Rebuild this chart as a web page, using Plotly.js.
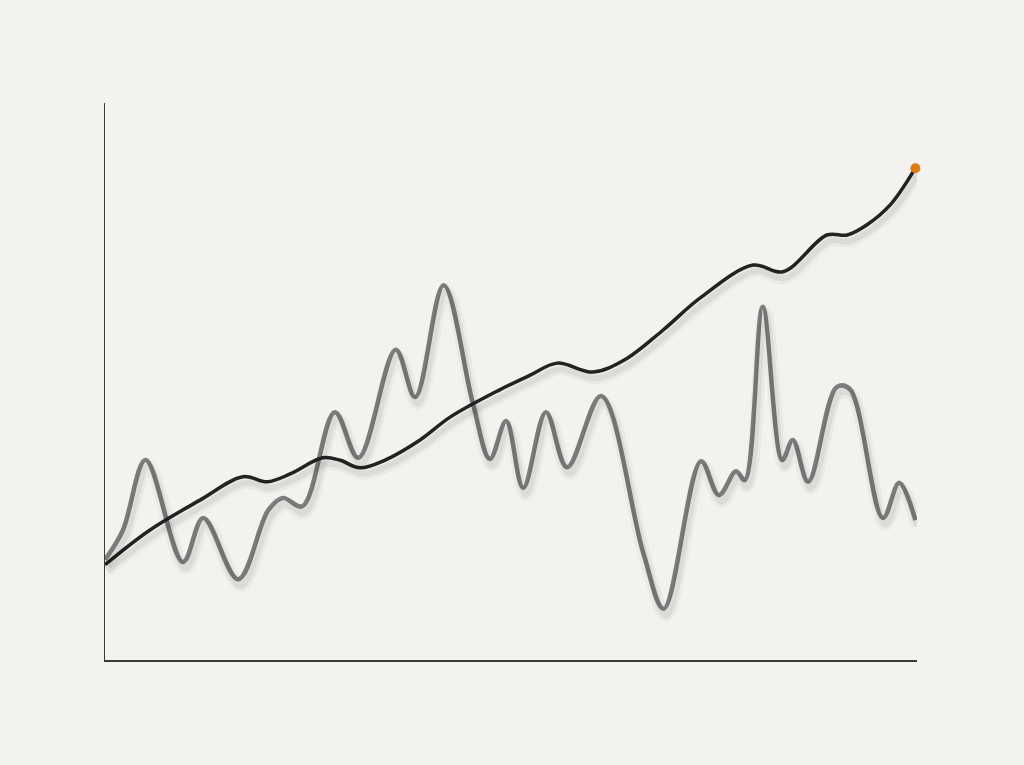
<!DOCTYPE html>
<html>
<head>
<meta charset="utf-8">
<script src="https://cdn.plot.ly/plotly-3.0.1.min.js"></script>
<style>
  html, body { margin: 0; padding: 0; background: #f3f2ef; }
  #chart { width: 1024px; height: 765px; }
</style>
</head>
<body>
<div id="chart"></div>
<script>
// Trend (black) series
const trendX = [0, 5.5, 11.7, 17.0, 20.0, 22.8, 26.8, 28.9, 31.4, 34.5, 38.8, 42.5, 48.6, 52.3, 55.7, 60.1, 64.0, 68.7, 73.3, 79.8, 83.5, 88.9, 91.4, 93.8, 96.7, 99.8];
const trendY = [17.1, 23.3, 28.7, 32.9, 32.0, 33.4, 36.3, 35.9, 34.5, 35.9, 39.5, 43.6, 48.5, 51.1, 53.3, 51.7, 53.9, 59.2, 65.0, 70.9, 69.7, 76.3, 76.3, 78.1, 81.7, 88.3];

// Volatile (gray) series
const noisyX = [0, 2.2, 5.0, 9.6, 12.1, 16.4, 20.1, 21.9, 24.3, 28.3, 31.2, 35.8, 38.2, 41.7, 45.3, 47.4, 49.4, 51.5, 54.3, 56.9, 61.1, 66.3, 68.8, 73.4, 75.6, 77.7, 78.8, 81.0, 83.4, 84.7, 86.6, 90.1, 91.7, 95.8, 97.8, 99.8];
const noisyY = [18.0, 23.3, 35.9, 17.6, 25.5, 14.5, 26.9, 29.1, 27.6, 44.5, 36.3, 55.7, 47.2, 67.3, 46.1, 36.1, 42.9, 30.9, 44.5, 34.6, 47.4, 19.2, 9.2, 35.7, 29.6, 33.9, 32.3, 63.4, 35.9, 39.5, 32.0, 49.0, 48.7, 25.5, 31.8, 25.1];

const lastX = [trendX[trendX.length - 1]];
const lastY = [trendY[trendY.length - 1]];

const shadowSoft = 'rgba(0,0,0,0.035)';
const shadowCore = 'rgba(0,0,0,0.06)';
const traces = [
  // soft shadows (same data, drawn on slightly offset overlay axes)
  {x: noisyX, y: noisyY, xaxis: 'x2', yaxis: 'y2', mode: 'lines',
   line: {shape: 'spline', smoothing: 1, color: shadowSoft, width: 13}, hoverinfo: 'skip'},
  {x: trendX, y: trendY, xaxis: 'x2', yaxis: 'y2', mode: 'lines',
   line: {shape: 'spline', smoothing: 1, color: shadowSoft, width: 12}, hoverinfo: 'skip'},
  {x: noisyX, y: noisyY, xaxis: 'x2', yaxis: 'y2', mode: 'lines',
   line: {shape: 'spline', smoothing: 1, color: shadowCore, width: 7}, hoverinfo: 'skip'},
  {x: trendX, y: trendY, xaxis: 'x2', yaxis: 'y2', mode: 'lines',
   line: {shape: 'spline', smoothing: 1, color: shadowCore, width: 6}, hoverinfo: 'skip'},
  {x: noisyX, y: noisyY, mode: 'lines',
   line: {shape: 'spline', smoothing: 1, color: '#7f7f7f', width: 4.5}},
  {x: trendX, y: trendY, mode: 'lines',
   line: {shape: 'spline', smoothing: 1, color: '#232323', width: 3.5}},
  {x: lastX, y: lastY, mode: 'markers', cliponaxis: false,
   marker: {color: '#e07a12', size: 10}}
];

const hidden = {showgrid: false, zeroline: false, showticklabels: false, ticks: ''};
const layout = {
  width: 1024, height: 765,
  margin: {l: 105, r: 107, t: 103, b: 105},
  paper_bgcolor: '#f3f2ef',
  plot_bgcolor: 'rgba(0,0,0,0)',
  showlegend: false,
  xaxis: Object.assign({range: [0, 100], showline: true, linecolor: '#3a3a3a', linewidth: 1.5}, hidden),
  yaxis: Object.assign({range: [0, 100], showline: true, linecolor: '#3a3a3a', linewidth: 1.5}, hidden),
  xaxis2: Object.assign({range: [-0.3, 99.7], overlaying: 'x', showline: false, visible: false}, hidden),
  yaxis2: Object.assign({range: [1.1, 101.1], overlaying: 'y', showline: false, visible: false}, hidden)
};

Plotly.newPlot('chart', traces, layout, {displayModeBar: false, staticPlot: true});
</script>
</body>
</html>
